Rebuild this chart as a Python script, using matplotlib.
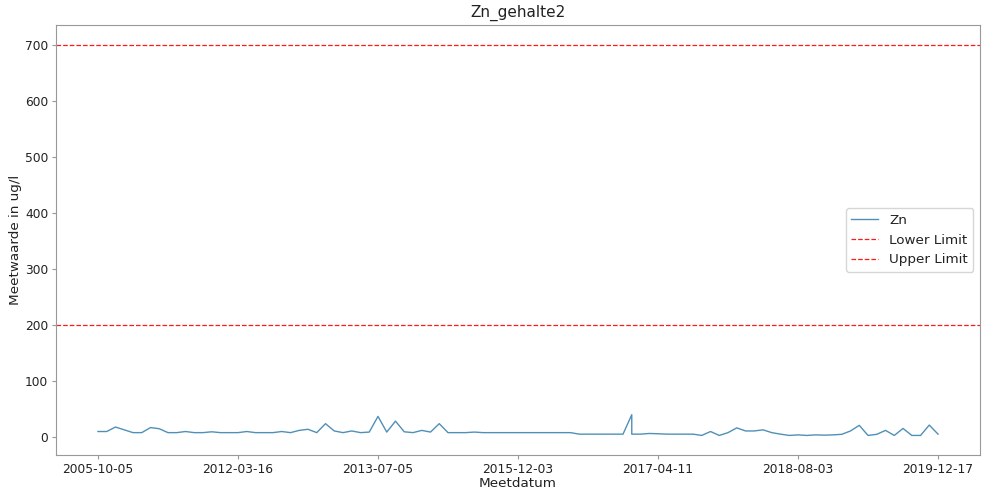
import matplotlib
matplotlib.use('Agg')
import matplotlib.pyplot as plt

# Meetdata Zn (ug/l); 2017-01-13 staat er twee keer in
meetdatum = [
    '2005-10-05', '2006-03-14', '2006-08-22', '2007-01-16', '2007-06-12',
    '2007-11-06', '2008-04-08', '2008-09-02', '2009-01-27', '2009-06-23',
    '2009-11-17', '2010-04-13', '2010-09-07', '2011-02-01', '2011-06-28',
    '2011-11-22', '2012-03-16', '2012-04-13', '2012-05-11', '2012-06-15',
    '2012-07-13', '2012-08-17', '2012-09-14', '2012-10-12', '2012-11-16',
    '2012-12-14', '2013-01-18', '2013-02-15', '2013-03-15', '2013-04-12',
    '2013-05-17', '2013-06-07', '2013-07-05', '2013-08-30', '2013-10-25',
    '2013-12-20', '2014-02-14', '2014-04-11', '2014-06-06', '2014-08-01',
    '2014-09-26', '2014-11-21', '2015-01-16', '2015-03-13', '2015-05-08',
    '2015-07-03', '2015-08-28', '2015-10-23', '2015-12-03', '2016-01-08',
    '2016-02-05', '2016-03-11', '2016-04-08', '2016-05-13', '2016-06-10',
    '2016-07-08', '2016-08-12', '2016-09-09', '2016-10-14', '2016-11-11',
    '2016-12-09', '2017-01-13', '2017-01-13', '2017-02-10', '2017-03-10',
    '2017-04-11', '2017-05-12', '2017-06-09', '2017-07-14', '2017-08-11',
    '2017-09-08', '2017-10-13', '2017-11-10', '2017-12-08', '2018-01-12',
    '2018-02-09', '2018-03-09', '2018-04-06', '2018-05-04', '2018-06-01',
    '2018-07-06', '2018-08-03', '2018-09-07', '2018-10-05', '2018-11-02',
    '2018-12-07', '2019-01-11', '2019-02-08', '2019-03-08', '2019-04-05',
    '2019-05-03', '2019-06-07', '2019-07-05', '2019-08-02', '2019-09-06',
    '2019-10-04', '2019-11-08', '2019-12-17',
]
zn = [
    10, 10, 18, 13, 8, 8, 17, 15, 8, 8,
    10, 8, 8, 9.5, 8, 8, 8, 10, 8, 8,
    8, 10, 8, 12, 14, 8, 24, 11, 8, 11,
    8, 9, 37, 9, 28.5, 9.5, 8, 12, 9, 24,
    8, 8, 8, 9, 8, 8, 8, 8, 8, 8,
    8, 8, 8, 8, 8, 5.3, 5.3, 5.3, 5.3, 5.3,
    5.3, 40, 5.3, 5.3, 6.5, 6, 5.3, 5.3, 5.3, 5.3,
    3, 10, 3, 8, 16.5, 11, 11, 13, 8, 5.3,
    3, 4, 3, 4, 3.5, 4, 5, 11, 21, 3,
    5, 12, 3, 15.5, 3, 3, 21.5, 5.3,
]
lower_limit = 200
upper_limit = 700
tick_labels = ['2005-10-05', '2012-03-16', '2013-07-05', '2015-12-03',
               '2017-04-11', '2018-08-03', '2019-12-17']

TEXT_COLOR = '#222222'
SPINE_COLOR = '#999999'
LIMIT_COLOR = '#ff1a1a'

fig = plt.figure(figsize=(9.82, 4.94), dpi=100)
ax = fig.add_axes([0.057, 0.079, 0.941, 0.870])

ax.plot(meetdatum, zn, color='#5090b8', linewidth=1.0, label='Zn')
ax.axhline(lower_limit, color=LIMIT_COLOR, linestyle='--', linewidth=0.9, label='Lower Limit')
ax.axhline(upper_limit, color=LIMIT_COLOR, linestyle='--', linewidth=0.9, label='Upper Limit')

ax.set_xticks(tick_labels)
ax.set_yticks(range(0, 701, 100))
ax.tick_params(labelsize=8.8, colors=SPINE_COLOR, labelcolor=TEXT_COLOR, length=3, pad=2.5)
for s in ax.spines.values():
    s.set_color(SPINE_COLOR)

ax.set_title('Zn_gehalte2', fontsize=11, color=TEXT_COLOR)
ax.set_xlabel('Meetdatum', fontsize=9.7, color=TEXT_COLOR, labelpad=1)
ax.set_ylabel('Meetwaarde in ug/l', fontsize=9.7, color=TEXT_COLOR, labelpad=2)
leg = ax.legend(loc='center right', fontsize=9.7)
for t in leg.get_texts():
    t.set_color(TEXT_COLOR)

fig.savefig('out.png', dpi=100)
